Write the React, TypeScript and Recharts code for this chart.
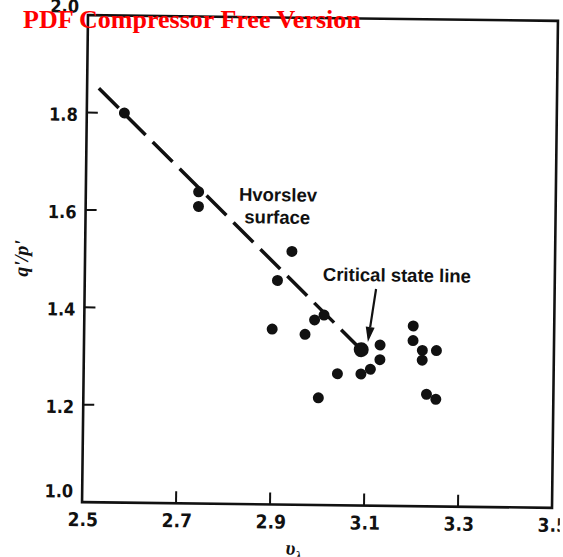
import {
  ScatterChart,
  Scatter,
  XAxis,
  YAxis,
  ReferenceArea,
  ReferenceLine,
  ReferenceDot,
} from "recharts";

const vTicks = [2.5, 2.7, 2.9, 3.1, 3.3, 3.5];
const qTicks = [1.0, 1.2, 1.4, 1.6, 1.8, 2.0];

// v_lambda and q'/p' of each test
const vValues = [
  2.58, 2.74, 2.74, 2.94, 2.91, 2.9, 2.97, 3.01, 2.99, 3.13, 3.13, 3.04,
  3.0, 3.09, 3.11, 3.2, 3.2, 3.22, 3.25, 3.22, 3.23, 3.25,
];
const qValues = [
  1.8, 1.64, 1.61, 1.52, 1.46, 1.36, 1.35, 1.39, 1.38, 1.33, 1.3, 1.27,
  1.22, 1.27, 1.28, 1.37, 1.34, 1.32, 1.32, 1.3, 1.23, 1.22,
];

// critical state point (big dot)
const criticalV = [3.09];
const criticalQ = [1.32];

// dashed Hvorslev surface line
const hvorslevV = [2.525, 3.09];
const hvorslevQ = [1.85, 1.32];

// arrow pointing at the critical state
const arrowV = [3.12, 3.104];
const arrowQ = [1.445, 1.336];

// annotation anchors
const labelText = ["Hvorslev", "surface", "Critical state line"];
const labelV = [2.909, 2.908, 3.164];
const labelQ = [1.636, 1.59, 1.474];

const points = vValues.map((v, i) => ({ v, q: qValues[i] }));
const critical = criticalV.map((v, i) => ({ v, q: criticalQ[i] }));
const hvorslev = hvorslevV.map((v, i) => ({ v, q: hvorslevQ[i] }));
const arrowSeg = arrowV.map((v, i) => ({ x: v, y: arrowQ[i] }));

const INK = "#111";
const PLOT_LEFT = 85;
const PLOT_BOTTOM = 505;
const tickFont = "'DejaVu Sans Condensed', 'Liberation Sans', sans-serif";
const noteFont = "'Liberation Sans', Arial, sans-serif";

function YTick(props: any) {
  const { y, payload } = props;
  const val = payload.value;
  const isEnd = val === 1 || val === 2;
  const dy = val === 1 ? -11 : val === 2 ? -9 : 2;
  return (
    <g>
      {!isEnd && (
        <line
          x1={PLOT_LEFT}
          x2={PLOT_LEFT + 11}
          y1={y}
          y2={y}
          stroke={INK}
          strokeWidth={2}
        />
      )}
      <text
        x={PLOT_LEFT - 9}
        y={y + dy}
        textAnchor="end"
        dominantBaseline="central"
        fontFamily={tickFont}
        fontWeight="bold"
        fontSize={18}
        fill={INK}
      >
        {val.toFixed(1)}
      </text>
    </g>
  );
}

function XTick(props: any) {
  const { x, payload } = props;
  const val = payload.value;
  const isEnd = val === 2.5 || val === 3.5;
  return (
    <g>
      {!isEnd && (
        <line
          x1={x}
          x2={x}
          y1={PLOT_BOTTOM}
          y2={PLOT_BOTTOM - 12}
          stroke={INK}
          strokeWidth={2}
        />
      )}
      <text
        x={x + 1}
        y={PLOT_BOTTOM + 17}
        textAnchor="middle"
        dominantBaseline="central"
        fontFamily={tickFont}
        fontWeight="bold"
        fontSize={19}
        fill={INK}
      >
        {val.toFixed(1)}
      </text>
    </g>
  );
}

const Dot = (p: any) => <circle cx={p.cx} cy={p.cy} r={5.5} fill={INK} />;
const BigDot = (p: any) => <circle cx={p.cx} cy={p.cy} r={7.5} fill={INK} />;

function Arrow(p: any) {
  const { x1, y1, x2, y2 } = p;
  const ang = Math.atan2(y2 - y1, x2 - x1);
  const len = 15;
  const half = 4.5;
  const bx = x2 - len * Math.cos(ang);
  const by = y2 - len * Math.sin(ang);
  const nx = -Math.sin(ang) * half;
  const ny = Math.cos(ang) * half;
  return (
    <g>
      <line x1={x1} y1={y1} x2={bx} y2={by} stroke={INK} strokeWidth={2.2} />
      <polygon
        points={`${x2},${y2} ${bx + nx},${by + ny} ${bx - nx},${by - ny}`}
        fill={INK}
      />
    </g>
  );
}

const makeNote = (text: string) => (p: any) =>
  (
    <text
      x={p.cx}
      y={p.cy}
      textAnchor="middle"
      dominantBaseline="central"
      fontFamily={noteFont}
      fontWeight="bold"
      fontSize={18.5}
      fill={INK}
    >
      {text}
    </text>
  );

export default function App() {
  return (
    <div
      style={{
        position: "absolute",
        left: 0,
        top: 0,
        width: 563,
        height: 557,
        background: "#fff",
        overflow: "hidden",
      }}
    >
      <div
        style={{
          position: "absolute",
          left: 0,
          top: 0,
          width: 563,
          height: 557,
          transform: "rotate(0.7deg)",
          transformOrigin: "320px 261.5px",
        }}
      >
        <ScatterChart
          width={563}
          height={557}
          margin={{ top: 18, right: 8, left: 0, bottom: 0 }}
        >
          <XAxis
            type="number"
            dataKey="v"
            domain={[2.5, 3.5]}
            ticks={vTicks}
            interval={0}
            height={52}
            axisLine={false}
            tickLine={false}
            tick={<XTick />}
          />
          <YAxis
            type="number"
            dataKey="q"
            domain={[1, 2]}
            ticks={qTicks}
            interval={0}
            width={85}
            axisLine={false}
            tickLine={false}
            tick={<YTick />}
          />
          <ReferenceArea
            x1={2.5}
            x2={3.5}
            y1={1}
            y2={2}
            fill="none"
            fillOpacity={0}
            stroke={INK}
            strokeWidth={2.6}
          />
          <Scatter
            data={hvorslev}
            line={{ stroke: INK, strokeWidth: 3.5, strokeDasharray: "28 10" }}
            shape={() => <g />}
            isAnimationActive={false}
          />
          <Scatter data={points} shape={Dot} isAnimationActive={false} />
          <Scatter data={critical} shape={BigDot} isAnimationActive={false} />
          <ReferenceLine segment={arrowSeg} shape={Arrow} />
          {labelText.map((t, i) => (
            <ReferenceDot
              key={t}
              x={labelV[i]}
              y={labelQ[i]}
              r={0}
              shape={makeNote(t)}
            />
          ))}
        </ScatterChart>
        <svg
          width={563}
          height={557}
          style={{ position: "absolute", left: 0, top: 0, pointerEvents: "none" }}
        >
          <text
            transform="translate(21,262) rotate(-90)"
            textAnchor="middle"
            dominantBaseline="central"
            fontFamily="'Liberation Serif', 'DejaVu Serif', serif"
            fontStyle="italic"
            fontWeight="bold"
            fontSize={20}
            fill={INK}
          >
            q'/p'
          </text>
          <text
            x={289}
            y={555}
            fontFamily="'Liberation Serif', 'DejaVu Serif', serif"
            fontStyle="italic"
            fontWeight="bold"
            fontSize={20}
            fill={INK}
          >
            υ<tspan dy={6} fontSize={14}>λ</tspan>
          </text>
        </svg>
      </div>
      <svg
        width={563}
        height={557}
        style={{ position: "absolute", left: 0, top: 0, pointerEvents: "none" }}
      >
        <text
          x={23}
          y={28}
          fontFamily="'Liberation Serif', 'Times New Roman', serif"
          fontWeight="bold"
          fontSize={26}
          fill="#ff0000"
        >
          PDF Compressor Free Version
        </text>
      </svg>
    </div>
  );
}
